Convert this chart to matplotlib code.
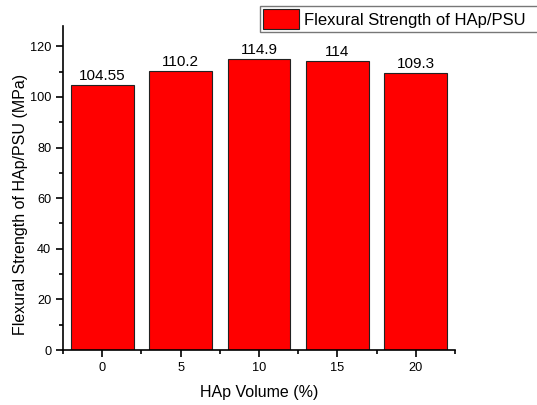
import matplotlib
matplotlib.use("Agg")
import matplotlib.pyplot as plt
from matplotlib.ticker import MultipleLocator

plt.rcParams['font.family'] = ['Liberation Sans', 'DejaVu Sans']

volume = [0, 5, 10, 15, 20]
strength = [104.55, 110.2, 114.9, 114, 109.3]
labels = ["104.55", "110.2", "114.9", "114", "109.3"]

fig = plt.figure(figsize=(5.37, 4.05), dpi=100)
ax = fig.add_axes([0.1173, 0.1358, 0.7300, 0.8000])

bars = ax.bar(volume, strength, width=4, color='#FF0000', edgecolor='#222222',
              linewidth=0.8, label='Flexural Strength of HAp/PSU')
for x, y, t in zip(volume, strength, labels):
    ax.text(x, y + 0.8, t, ha='center', va='bottom', fontsize=11)

ax.set_xlim(-2.5, 22.5)
ax.set_ylim(0, 128)
ax.xaxis.set_major_locator(MultipleLocator(5))
ax.xaxis.set_minor_locator(MultipleLocator(2.5))
ax.yaxis.set_major_locator(MultipleLocator(20))
ax.yaxis.set_minor_locator(MultipleLocator(10))
ax.spines['top'].set_visible(False)
ax.spines['right'].set_visible(False)
for s in ('left', 'bottom'):
    ax.spines[s].set_linewidth(1.2)
ax.tick_params(which='major', direction='out', length=5, width=1.2, labelsize=9.2)
ax.tick_params(which='minor', direction='out', length=3, width=1.2)

ax.set_xlabel('HAp Volume (%)', fontsize=11.5, labelpad=8)
ax.set_ylabel('Flexural Strength of HAp/PSU (MPa)', fontsize=11.5)
ax.yaxis.set_label_coords(-0.089, 0.448)

# legend frame runs past the right edge of the figure
leg = ax.legend(loc='upper left',
                bbox_to_anchor=(260 / 537, 0, 290 / 537, 1 - 6 / 405),
                bbox_transform=fig.transFigure, mode='expand', fontsize=12,
                frameon=True, fancybox=False, edgecolor='#555555',
                handlelength=2.15, handleheight=1.4, borderpad=0.2,
                handletextpad=0.3, borderaxespad=0)
leg.get_frame().set_linewidth(1.0)

fig.savefig('out.png', dpi=100)
